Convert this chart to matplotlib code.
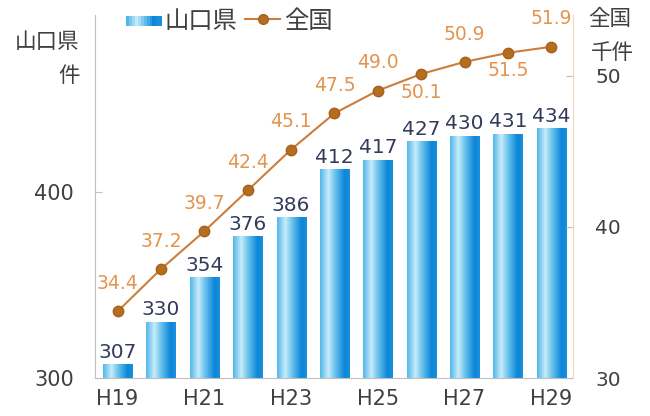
import numpy as np
import matplotlib
matplotlib.use("Agg")
import matplotlib.pyplot as plt
from matplotlib.colors import LinearSegmentedColormap
from matplotlib.legend_handler import HandlerBase
from matplotlib.patches import Rectangle
from matplotlib.lines import Line2D

plt.rcParams['font.family'] = ['DejaVu Sans', 'Noto Sans CJK JP']

# data
years = ['H19', 'H20', 'H21', 'H22', 'H23', 'H24', 'H25', 'H26', 'H27', 'H28', 'H29']
yamaguchi = [307, 330, 354, 376, 386, 412, 417, 427, 430, 431, 434]
zenkoku = [34.4, 37.2, 39.7, 42.4, 45.1, 47.5, 49.0, 50.1, 50.9, 51.5, 51.9]
label_below = [False, False, False, False, False, False, False, True, False, True, False]

# bar shading (left -> right)
grad = LinearSegmentedColormap.from_list('bar', [
    (0.0, '#4fb6e8'), (0.28, '#c8ecfb'), (0.5, '#6cc3ee'),
    (0.82, '#0c86d8'), (1.0, '#1b8fdc')])

fig = plt.figure(figsize=(6.5, 4.16), dpi=100)
ax = fig.add_axes([95 / 650, 1 - 378 / 416, (573 - 95) / 650, (378 - 15) / 416])
ax2 = ax.twinx()

YMIN = 300
x = np.arange(len(years))
bars = ax.bar(x, yamaguchi, width=0.67, color='none', zorder=2)
g = np.linspace(0, 1, 256).reshape(1, -1)
for b in bars:
    x0 = b.get_x()
    im = ax.imshow(g, cmap=grad, aspect='auto', zorder=2,
                   extent=(x0, x0 + b.get_width(), YMIN, b.get_height()))

for xi, v in zip(x, yamaguchi):
    ax.annotate(str(v), (xi, v), xytext=(0, 2), textcoords='offset points',
                ha='center', va='bottom', fontsize=14.5, color='#323c5a', zorder=4)

ax.set_xlim(-0.52, 10.5)
ax.set_ylim(YMIN, 495)
ax.set_yticks([300, 400])
ax.set_xticks(x[::2])
ax.set_xticklabels(years[::2])

ax2.plot(x, zenkoku, color='#cc7d3c', lw=1.5, marker='o', ms=7.5,
         mfc='#b56d1f', mec='#a5621d', mew=1, zorder=5)
for xi, v, below in zip(x, zenkoku, label_below):
    ax2.annotate(f'{v:.1f}', (xi, v), xytext=(0, -13 if below else 20),
                 textcoords='offset points', ha='center', va='center',
                 fontsize=13.5, color='#e3944e')
ax2.set_ylim(30, 54)
ax2.set_yticks([30, 40, 50])

for a in (ax, ax2):
    a.spines['top'].set_visible(False)
    a.tick_params(colors='#bfbfbf', labelcolor='#404040', labelsize=15,
                  direction='in', length=5)
ax.spines['left'].set_color('#bfbfbf')
ax.spines['bottom'].set_color('#bfbfbf')
ax.spines['right'].set_visible(False)
ax2.spines['left'].set_visible(False)
ax2.spines['bottom'].set_visible(False)
ax2.spines['right'].set_color('#f3d5bd')
ax2.tick_params(labelsize=14.5)
ax.tick_params(axis='x', length=0, pad=8)
ax.tick_params(axis='y', pad=15)
ax2.tick_params(axis='y', pad=16)

fig.text(47 / 650, 1 - 42 / 416, '山口県', ha='center', va='center',
         fontsize=15.5, color='#404040')
fig.text(69 / 650, 1 - 76 / 416, '件', ha='center', va='center',
         fontsize=15.5, color='#404040')
fig.text(610 / 650, 1 - 19 / 416, '全国', ha='center', va='center',
         fontsize=15.5, color='#404040')
fig.text(612 / 650, 1 - 53 / 416, '千件', ha='center', va='center',
         fontsize=15.5, color='#404040')


class GradientHandler(HandlerBase):
    def create_artists(self, legend, orig_handle, xdescent, ydescent,
                       width, height, fontsize, trans):
        n = 12
        out = []
        for i in range(n):
            r = Rectangle((-xdescent + width * i / n, -ydescent + height * 0.1),
                          width / n + 0.3, height * 0.6,
                          facecolor=grad(i / (n - 1)), edgecolor='none',
                          transform=trans)
            out.append(r)
        return out


bar_handle = Rectangle((0, 0), 1, 1)
line_handle = Line2D([], [], color='#cc7d3c', lw=1.5, marker='o', ms=7,
                     mfc='#b56d1f', mec='#a5621d')
leg = fig.legend([bar_handle, line_handle], ['山口県', '全国'],
                 handler_map={Rectangle: GradientHandler()},
                 loc='center left', bbox_to_anchor=(109 / 650, 1 - 21 / 416),
                 ncol=2, frameon=True, fontsize=17.5, handlelength=1.45,
                 handletextpad=0.15, columnspacing=0.3, borderpad=0.2)
leg.get_frame().set_facecolor('white')
leg.get_frame().set_edgecolor('none')
leg.get_frame().set_alpha(1)
for t in leg.get_texts():
    t.set_color('#404040')

fig.savefig('out.png', dpi=100)
